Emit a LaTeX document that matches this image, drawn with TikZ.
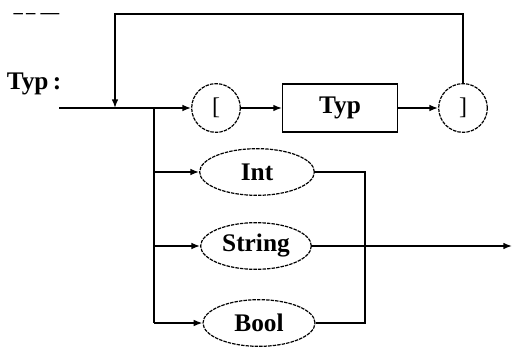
\documentclass[tikz,border=0pt]{standalone}
\usepackage{fontspec}
\setmainfont{Liberation Serif}
\usetikzlibrary{shapes.geometric,arrows.meta}
\begin{document}
\begin{tikzpicture}[x=0.75pt,y=-0.75pt,
  line width=1.1pt,
  arr/.style={-{Latex[length=6.5pt,width=5pt]}},
  lbl/.style={font=\fontsize{19}{21}\selectfont\bfseries,inner sep=0pt},
  term/.style={ellipse,draw,line width=0.9pt,dash pattern=on 2.6pt off 0.8pt,inner sep=0pt,
    font=\fontsize{19}{21}\selectfont\bfseries},
  circ/.style={circle,draw,line width=0.9pt,dash pattern=on 2.6pt off 0.8pt,inner sep=0pt,
    minimum size=36.5pt,font=\fontsize{18}{20}\selectfont},
  nbox/.style={rectangle,draw,line width=1.1pt,minimum width=86pt,minimum height=36pt,inner sep=0pt,
    font=\fontsize{19}{21}\selectfont\bfseries}]
\useasboundingbox (0,0) rectangle (513,349);
\node[font=\fontsize{14}{16}\bfseries\selectfont,inner sep=0pt,anchor=base west] (dashes) at (13,18.5) {–\,–\;—};
\node[lbl] (typlabel) at (34,84) {Typ\,:};
\coordinate (start) at (59,108);
\coordinate (loopin) at (115,108);
\coordinate (split) at (154,108);
\node[circ] (lb) at (216,108) {[};
\node[nbox] (typ) at (340,108) {Typ};
\node[circ] (rb) at (463,108) {]};
\coordinate (topR) at (463,14);
\coordinate (topL) at (115,14);
\node[term,minimum width=86pt,minimum height=35pt] (int) at (257,172) {Int};
\node[term,minimum width=83pt,minimum height=35pt] (string) at (256,246) {String};
\node[term,minimum width=84pt,minimum height=35pt] (bool) at (259,323) {Bool};
\coordinate (busB) at (154,323);
\coordinate (rbusT) at (365,172);
\coordinate (rbusB) at (365,323);
\coordinate (exit) at (512,246);
% main line
\draw (start) -- (split);
\draw[arr] (split) -- (lb);
\draw[arr] (lb) -- (typ);
\draw[arr] (typ) -- (rb);
% loop back
\draw[arr] (rb.north) -- (topR) -- (topL) -- (loopin);
% alternatives
\draw (split) -- (busB);
\draw[arr] (split |- int) -- (int);
\draw[arr] (split |- string) -- (string);
\draw[arr] (busB) -- (bool);
\draw (int) -- (rbusT) -- (rbusB) -- (bool);
\draw[arr] (string) -- (exit);
\end{tikzpicture}
\end{document}
